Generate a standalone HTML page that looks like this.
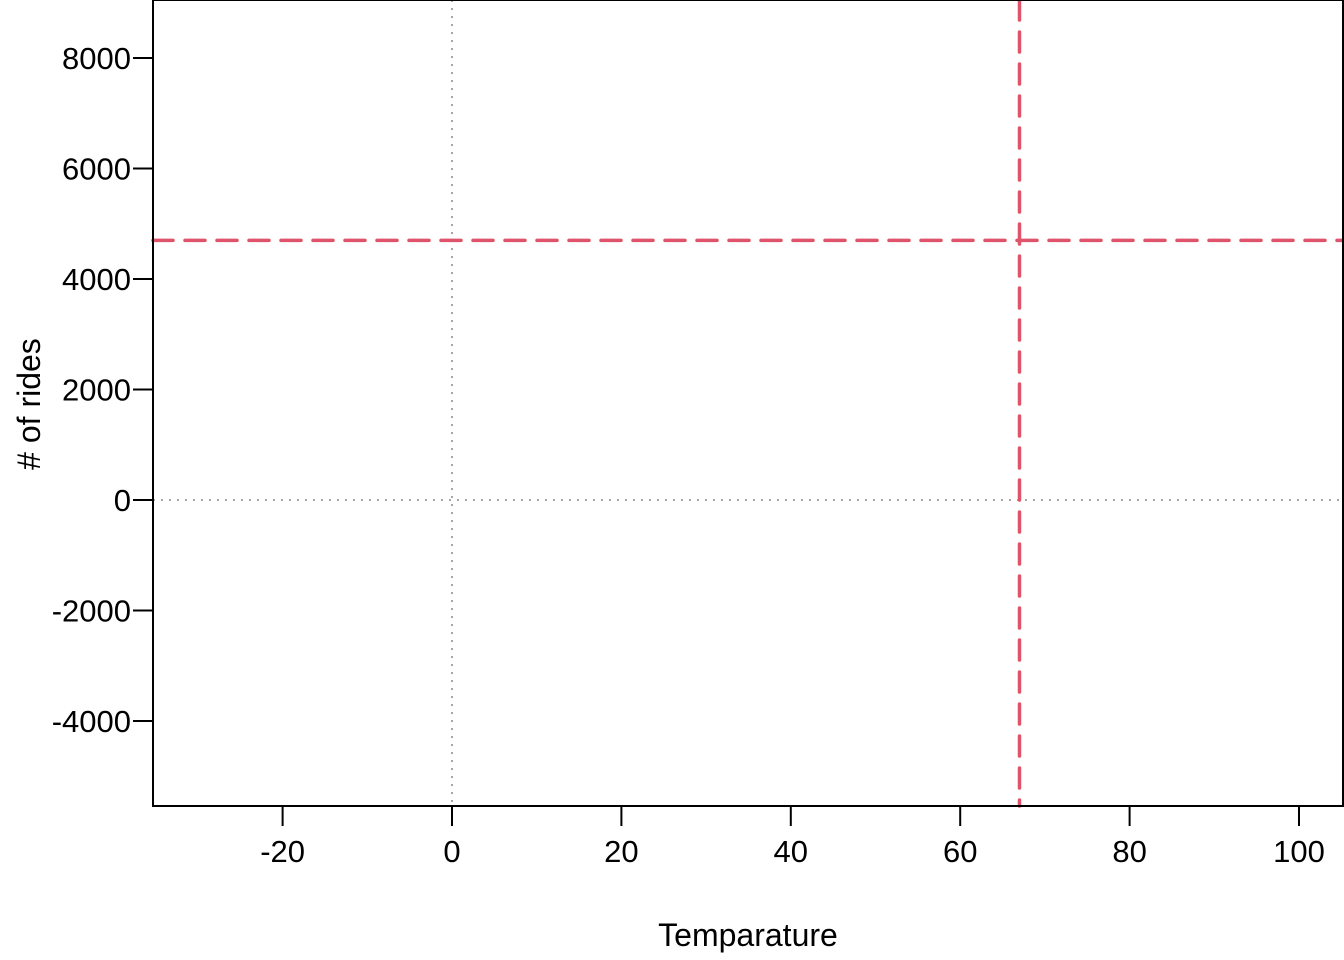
<!DOCTYPE html>
<html><head><meta charset="utf-8"><style>
html,body{margin:0;padding:0;background:#fff;}
svg{display:block;font-family:"Liberation Sans",Arial,sans-serif;}
</style></head><body>
<svg id="chart" width="1344" height="960" viewBox="0 0 1344 960" xmlns="http://www.w3.org/2000/svg"></svg>
<script>
const xTicks = [-20, 0, 20, 40, 60, 80, 100];
const yTicks = [-4000, -2000, 0, 2000, 4000, 6000, 8000];
const refX = [67];
const refY = [4700];
const zeroX = [0];
const zeroY = [0];

const NS = "http://www.w3.org/2000/svg";
const svg = document.getElementById('chart');
function sx(v){ return 452 + v * 8.47; }
function sy(v){ return 500 - v * 0.05525; }
function mk(tag, attrs, parent){
  const e = document.createElementNS(NS, tag);
  for (const k in attrs) e.setAttribute(k, attrs[k]);
  (parent || svg).appendChild(e);
  return e;
}
const L = 153, R = 1343, T = 0, B = 806;

zeroX.forEach(v => {
  const e = mk('line', {x1: sx(v), x2: sx(v), y1: T, y2: B, stroke: '#888', 'stroke-width': 1.5, 'stroke-dasharray': '2 6'});
  
  
});
zeroY.forEach(v => {
  const e = mk('line', {x1: L, x2: R, y1: sy(v), y2: sy(v), stroke: '#888', 'stroke-width': 1.5, 'stroke-dasharray': '2 6'});
  
  
});

refY.forEach(v => {
  const e = mk('line', {x1: L, x2: R, y1: sy(v), y2: sy(v), stroke: '#DF536B', 'stroke-width': 3.5, 'stroke-dasharray': '20 12', 'stroke-linecap': 'round'});
  
  
});
refX.forEach(v => {
  const e = mk('line', {x1: sx(v), x2: sx(v), y1: T, y2: B, stroke: '#DF536B', 'stroke-width': 3.5, 'stroke-dasharray': '20 12', 'stroke-linecap': 'round'});
  
  
});

const box = mk('rect', {x: L, y: T, width: R - L, height: B - T, fill: 'none', stroke: '#000', 'stroke-width': 2});



xTicks.forEach(v => {
  const g = mk('g', {});
  
  
  mk('line', {x1: sx(v), x2: sx(v), y1: B, y2: B + 20, stroke: '#000', 'stroke-width': 2}, g);
  const t = mk('text', {x: sx(v), y: 862, 'text-anchor': 'middle', 'font-size': 31, fill: '#000'}, g);
  t.textContent = v;
});
yTicks.forEach(v => {
  const g = mk('g', {});
  
  
  mk('line', {x1: L - 20, x2: L, y1: sy(v), y2: sy(v), stroke: '#000', 'stroke-width': 2}, g);
  const t = mk('text', {x: 131, y: sy(v) + 11, 'text-anchor': 'end', 'font-size': 31, fill: '#000'}, g);
  t.textContent = v;
});

const xt = mk('text', {x: 748, y: 946, 'text-anchor': 'middle', 'font-size': 32, fill: '#000'});
xt.textContent = 'Temparature';


const yt = mk('text', {x: 0, y: 0, 'text-anchor': 'middle', 'font-size': 32, fill: '#000', transform: 'translate(40,404) rotate(-90)'});
yt.textContent = '# of rides';


</script>
</body></html>
